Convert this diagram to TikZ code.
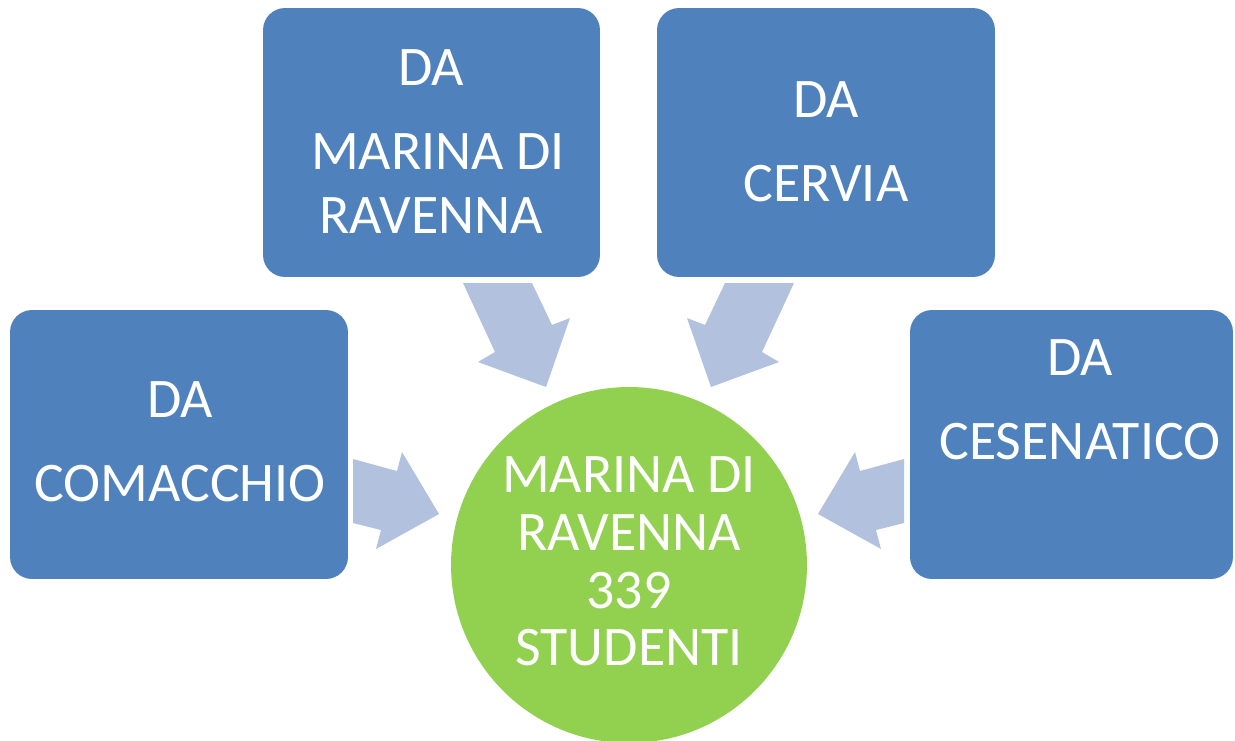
\documentclass[tikz,border=0pt]{standalone}
\usepackage{fontspec}
\setmainfont{Carlito}
\definecolor{boxblue}{HTML}{4F81BD}
\definecolor{arrowblue}{HTML}{B2C1DD}
\definecolor{circgreen}{HTML}{92D050}
\begin{document}
\begin{tikzpicture}[x=0.02cm,y=-0.02cm,
  box/.style={fill=boxblue, rounded corners=0.44cm, minimum height=5.38cm, inner sep=0pt},
  lbl/.style={text=white, anchor=base, font=\fontsize{31.8}{38}\selectfont, inner sep=0pt},
  fatarrow/.style={fill=arrowblue}]
\path[use as bounding box] (0,0) rectangle (1235,741);
\clip (0,0) rectangle (1235,741);
% boxes
\node[box, minimum width=6.76cm] (comacchio) at (179,444.5) {};
\node[box, minimum width=6.74cm] (marina) at (431.5,142.5) {};
\node[box, minimum width=6.76cm] (cervia) at (826,142.5) {};
\node[box, minimum width=6.46cm] (cesenatico) at (1071.5,444.5) {};
% hub
\node[circle, fill=circgreen, minimum size=7.12cm, inner sep=0pt] (hub) at (629,565) {};
% arrows
\fill[fatarrow] (353,459) -- (397,471) -- (402,452) -- (439,514) -- (376,549) -- (381,530) -- (353,523) -- cycle;
\fill[fatarrow] (463,283) -- (532,283) -- (552,325) -- (570,318) -- (546,387) -- (478,362) -- (495,352) -- cycle;
\fill[fatarrow] (794,283) -- (725,283) -- (705,325) -- (687,318) -- (711,387) -- (779,362) -- (762,352) -- cycle;
\fill[fatarrow] (904,459) -- (860,471) -- (855,452) -- (818,514) -- (881,549) -- (876,530) -- (904,523) -- cycle;
% labels
\node[lbl] (t1a) at (180,417) {DA};
\node[lbl] (t1b) at (180,501) {COMACCHIO};
\node[lbl] (t2a) at (431,85) {DA};
\node[lbl] (t2b) at (438,169) {MARINA DI};
\node[lbl] (t2c) at (431,233) {RAVENNA};
\node[lbl] (t3a) at (826,117) {DA};
\node[lbl] (t3b) at (826,201) {CERVIA};
\node[lbl] (t4a) at (1080,375) {DA};
\node[lbl] (t4b) at (1080,459) {CESENATICO};
\node[lbl] (h1) at (629,492) {MARINA DI};
\node[lbl] (h2) at (629,550) {RAVENNA};
\node[lbl] (h3) at (629,608) {339};
\node[lbl] (h4) at (629,665) {STUDENTI};
\end{tikzpicture}
\end{document}
